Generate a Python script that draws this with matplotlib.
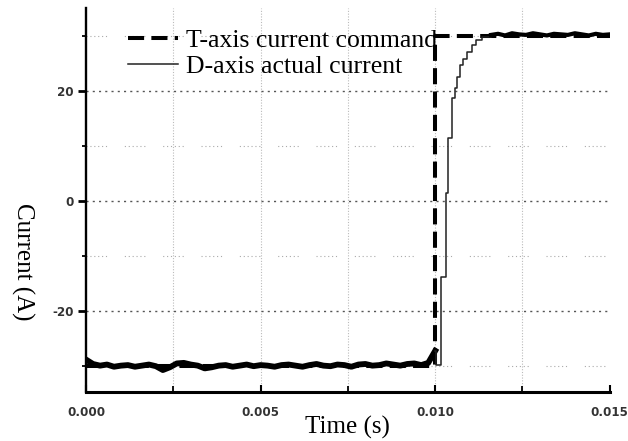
import numpy as np
import matplotlib
matplotlib.use("Agg")
import matplotlib.pyplot as plt
from matplotlib.ticker import MultipleLocator, FormatStrFormatter

# T-axis current command (step from -30 A to +30 A at 10 ms)
cmd_t = [0.0, 0.0100, 0.0100, 0.0150]
cmd_i = [-30.0, -30.0, 30.0, 30.0]

# D-axis actual current before the step, sampled every 0.2 ms from 0 to 10 ms
pre_i = [-28.8, -29.6, -29.9, -29.7, -30.1, -29.9, -29.8, -30.1, -29.9, -29.7,
         -30.0, -30.7, -30.2, -29.5, -29.4, -29.7, -29.9, -30.4, -30.2, -29.9,
         -29.8, -30.1, -29.9, -29.7, -30.0, -29.8, -29.9, -30.1, -29.8, -29.7,
         -29.9, -30.1, -29.8, -29.6, -29.9, -30.0, -29.7, -29.8, -30.1, -29.7,
         -29.6, -29.9, -29.8, -29.5, -29.7, -29.9, -29.6, -29.5, -29.8, -29.4,
         -27.2]
pre_t = np.linspace(0.0, 0.0100, len(pre_i))

# staircase response right after the step
trans_t = [0.01000, 0.01003, 0.01018, 0.01030, 0.01037, 0.01048, 0.01058,
           0.01061, 0.01071, 0.01080, 0.01090, 0.01104, 0.01118, 0.01133, 0.01160]
trans_i = [-27.2, -29.8, -13.8, 1.4, 11.4, 18.7, 20.5,
           22.6, 24.7, 25.9, 27.1, 28.4, 29.3, 29.9, 30.2]

# settled current, sampled every 0.2 ms from 11.6 ms to 15 ms
post_i = [30.2, 30.4, 30.1, 30.5, 30.3, 30.2, 30.5, 30.3, 30.1,
          30.4, 30.3, 30.2, 30.5, 30.3, 30.1, 30.4, 30.2, 30.3]
post_t = np.linspace(0.0116, 0.0150, len(post_i))

serif = ["Liberation Serif", "DejaVu Serif"]
plt.rcParams["axes.unicode_minus"] = False

fig = plt.figure(figsize=(6.28, 4.41), dpi=100)
ax = fig.add_axes([0.137, 0.111, 0.834, 0.871])

ax.plot(cmd_t, cmd_i, color="black", lw=2.9, linestyle=(0, (4, 1.8)),
        label="T-axis current command", zorder=3)
ax.plot(pre_t, pre_i, color="black", lw=4.2, zorder=4)
ax.plot(trans_t, trans_i, color="#222222", lw=1.1, drawstyle="steps-post",
        label="D-axis actual current", zorder=4)
ax.plot(post_t, post_i, color="black", lw=3.0, zorder=4)

ax.set_xlim(0.0, 0.015)
ax.set_ylim(-34.7, 35.1)

ax.xaxis.set_major_locator(MultipleLocator(0.005))
ax.xaxis.set_minor_locator(MultipleLocator(0.0025))
ax.xaxis.set_major_formatter(FormatStrFormatter("%.3f"))
ax.yaxis.set_major_locator(MultipleLocator(20))
ax.yaxis.set_minor_locator(MultipleLocator(10))

for s in ["top", "right"]:
    ax.spines[s].set_visible(False)
ax.spines["left"].set_linewidth(1.7)
ax.spines["bottom"].set_linewidth(2.2)

ax.tick_params(axis="x", which="major", direction="in", length=5, width=1.5, pad=10)
ax.tick_params(axis="x", which="minor", direction="in", length=4, width=1.3)
ax.tick_params(axis="y", which="major", direction="out", length=6, width=2, pad=3)
ax.tick_params(axis="y", which="minor", direction="out", length=3, width=1.3)
for lab in ax.get_xticklabels() + ax.get_yticklabels():
    lab.set_fontsize(8.6)
    lab.set_fontweight("bold")
    lab.set_color("#333333")

# grid: dark dotted at the major y values, clustered light dots at minor ones
ax.grid(axis="y", which="major", color="#555555", lw=1.0, linestyle=(0, (1.5, 3)))
ax.grid(axis="y", which="minor", color="#aaaaaa", lw=0.8,
        linestyle=(0, (1, 2.5, 1, 2.5, 1, 2.5, 1, 2.5, 1, 2.5, 1, 16)))
ax.grid(axis="x", which="both", color="#bbbbbb", lw=0.8, linestyle=(0, (1, 1.5)))
ax.set_axisbelow(True)
for tick in ax.xaxis.get_major_ticks():
    if tick.get_loc() <= 0.0 or tick.get_loc() >= 0.015 - 1e-9:
        tick.gridline.set_visible(False)

ax.set_xlabel("Time (s)", family=serif, fontsize=18, labelpad=-2)
ax.set_ylabel("Current (A)", family=serif, fontsize=18, rotation=-90,
              va="center", ha="center")
ax.yaxis.set_label_coords(-0.122, 0.339)

ax.legend(loc="upper left", bbox_to_anchor=(0.08, 0.945), frameon=False,
          prop={"family": serif, "size": 18.5}, borderpad=0, borderaxespad=0,
          handlelength=1.95, handletextpad=0.3, labelspacing=0.1)

fig.savefig("out.png", dpi=100)
